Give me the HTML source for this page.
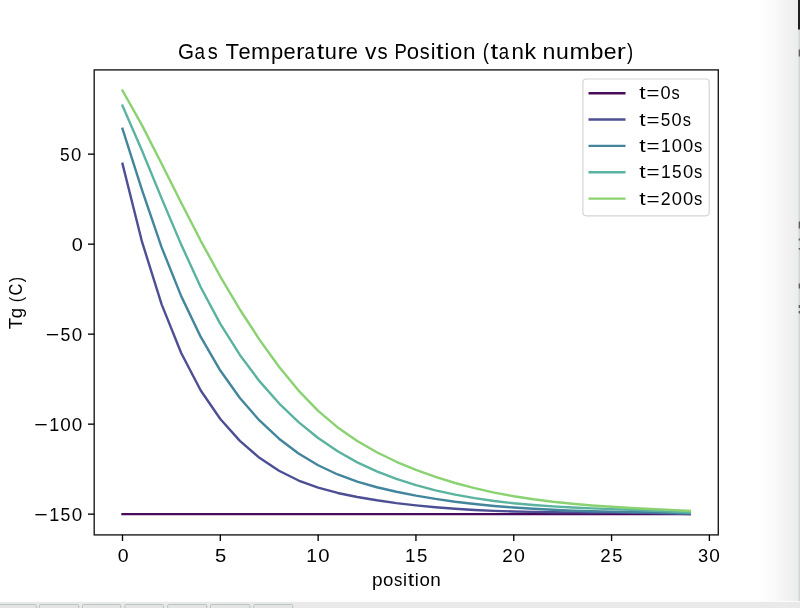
<!DOCTYPE html>
<html><head><meta charset="utf-8"><style>
html,body{margin:0;padding:0;background:#fff;width:800px;height:608px;overflow:hidden}
svg{display:block} #w{will-change:transform}
text{font-family:"Liberation Sans", sans-serif;fill:#000}
</style></head><body><div id="w">
<svg width="800" height="608" viewBox="0 0 800 608">
<defs>
<linearGradient id="rg" x1="0" x2="1" y1="0" y2="0">
<stop offset="0" stop-color="#ffffff"/><stop offset="0.45" stop-color="#f9f9f9"/><stop offset="1" stop-color="#ececec"/>
</linearGradient>
</defs>
<rect x="0" y="0" width="800" height="608" fill="#fff"/>
<rect x="757" y="0" width="41.5" height="601" fill="url(#rg)"/>
<rect x="798.4" y="0" width="1.6" height="601" fill="#cdd6d6"/>
<rect x="798" y="0" width="2" height="29.5" fill="#1e1e1e"/>
<g fill="#5c5c5c"><rect x="798.7" y="49.5" width="1.3" height="7"/><rect x="798.7" y="221.5" width="1.3" height="7"/><rect x="798.7" y="238.5" width="1.3" height="2"/><rect x="798.7" y="248" width="1.3" height="1.6"/><rect x="798.7" y="283.5" width="1.3" height="5"/><rect x="798.7" y="305" width="1.3" height="3"/><rect x="798.7" y="311" width="1.3" height="2.4"/></g>
<rect x="0" y="601.8" width="800" height="6.2" fill="#e9e9e9"/>
<rect x="-3.5" y="604.5" width="39.8" height="6" rx="1" fill="#e4e4e4" stroke="#b9c4c4" stroke-width="1"/>
<rect x="39.3" y="604.5" width="39.4" height="6" rx="1" fill="#e4e4e4" stroke="#b9c4c4" stroke-width="1"/>
<rect x="82.5" y="604.5" width="38.2" height="6" rx="1" fill="#e4e4e4" stroke="#b9c4c4" stroke-width="1"/>
<rect x="124.9" y="604.5" width="38.6" height="6" rx="1" fill="#e4e4e4" stroke="#b9c4c4" stroke-width="1"/>
<rect x="167.7" y="604.5" width="39.0" height="6" rx="1" fill="#e4e4e4" stroke="#b9c4c4" stroke-width="1"/>
<rect x="210.5" y="604.5" width="39.4" height="6" rx="1" fill="#e4e4e4" stroke="#b9c4c4" stroke-width="1"/>
<rect x="253.7" y="604.5" width="39.0" height="6" rx="1" fill="#e4e4e4" stroke="#b9c4c4" stroke-width="1"/>
<g fill="none" stroke-width="2.4" stroke-linejoin="round" stroke-linecap="square">
<polyline points="122.50,514.15 689.83,514.15" stroke="#490a5b"/>
<polyline points="122.50,163.78 142.06,241.93 161.63,304.33 181.19,352.94 200.75,390.45 220.31,419.03 239.88,440.83 259.44,457.79 279.00,470.80 298.57,480.55 318.13,487.71 337.69,492.96 357.26,496.96 376.82,500.28 396.38,503.08 415.94,505.40 435.51,507.29 455.07,508.80 474.63,509.96 494.20,510.84 513.76,511.48 533.32,511.92 552.89,512.21 572.45,512.40 592.01,512.53 611.58,512.66 631.14,512.82 650.70,513.07 670.26,513.46 689.83,514.02" stroke="#4c4f94"/>
<polyline points="122.50,128.86 142.06,190.06 161.63,247.34 181.19,296.11 200.75,336.93 220.31,370.56 239.88,398.04 259.44,420.43 279.00,438.72 298.57,453.51 318.13,465.26 337.69,474.48 357.26,481.64 376.82,487.24 396.38,491.76 415.94,495.61 435.51,498.91 455.07,501.71 474.63,504.05 494.20,505.99 513.76,507.56 533.32,508.82 552.89,509.82 572.45,510.59 592.01,511.19 611.58,511.66 631.14,512.05 650.70,512.40 670.26,512.77 689.83,513.20" stroke="#43859c"/>
<polyline points="122.50,105.64 142.06,150.75 161.63,198.37 181.19,244.61 200.75,287.21 220.31,323.93 239.88,354.97 259.44,381.16 279.00,403.30 298.57,422.11 318.13,438.01 337.69,451.32 357.26,462.36 376.82,471.46 396.38,478.95 415.94,485.14 435.51,490.32 455.07,494.64 474.63,498.17 494.20,501.02 513.76,503.28 533.32,505.05 552.89,506.42 572.45,507.49 592.01,508.35 611.58,509.09 631.14,509.82 650.70,510.62 670.26,511.60 689.83,512.84" stroke="#5ab39f"/>
<polyline points="122.50,90.52 142.06,125.36 161.63,163.78 181.19,202.69 200.75,240.80 220.31,276.53 239.88,309.51 259.44,339.59 279.00,366.68 298.57,390.59 318.13,410.87 337.69,427.42 357.26,440.95 376.82,452.25 396.38,461.79 415.94,469.92 435.51,476.95 455.07,483.01 474.63,488.19 494.20,492.56 513.76,496.23 533.32,499.26 552.89,501.75 572.45,503.78 592.01,505.43 611.58,506.78 631.14,507.93 650.70,508.95 670.26,509.92 689.83,510.95" stroke="#8ad271"/>
</g>
<rect x="94.2" y="69.9" width="624.1" height="465" fill="none" stroke="#1c1c1c" stroke-width="1.4"/>
<g stroke="#000" stroke-width="1.35"><line x1="88" y1="154.15" x2="94.2" y2="154.15"/><line x1="88" y1="244.15" x2="94.2" y2="244.15"/><line x1="88" y1="334.15" x2="94.2" y2="334.15"/><line x1="88" y1="424.15" x2="94.2" y2="424.15"/><line x1="88" y1="514.15" x2="94.2" y2="514.15"/><line x1="122.50" y1="534.8" x2="122.50" y2="541"/><line x1="220.31" y1="534.8" x2="220.31" y2="541"/><line x1="318.13" y1="534.8" x2="318.13" y2="541"/><line x1="415.94" y1="534.8" x2="415.94" y2="541"/><line x1="513.76" y1="534.8" x2="513.76" y2="541"/><line x1="611.58" y1="534.8" x2="611.58" y2="541"/><line x1="709.39" y1="534.8" x2="709.39" y2="541"/></g>
<text transform="translate(60.05,160.65) scale(0.916,1)" font-size="19.0">5</text><text transform="translate(70.92,160.65) scale(0.974,1)" font-size="19.0">0</text>
<text transform="translate(71.70,250.65) scale(1.047,1)" font-size="19.0">0</text>
<text transform="translate(45.75,340.65) scale(1.212,1)" font-size="19.0">−</text><text transform="translate(60.61,340.65) scale(0.931,1)" font-size="19.0">5</text><text transform="translate(71.66,340.65) scale(0.990,1)" font-size="19.0">0</text>
<text transform="translate(34.35,430.65) scale(1.214,1)" font-size="19.0">−</text><text transform="translate(49.18,430.65) scale(0.943,1)" font-size="19.0">1</text><text transform="translate(60.31,430.65) scale(0.992,1)" font-size="19.0">0</text><text transform="translate(71.65,430.65) scale(0.992,1)" font-size="19.0">0</text>
<text transform="translate(34.35,520.65) scale(1.214,1)" font-size="19.0">−</text><text transform="translate(49.18,520.65) scale(0.943,1)" font-size="19.0">1</text><text transform="translate(60.57,520.65) scale(0.933,1)" font-size="19.0">5</text><text transform="translate(71.65,520.65) scale(0.992,1)" font-size="19.0">0</text>
<text transform="translate(117.82,561.50) scale(1.025,1)" font-size="19.0">0</text>
<text transform="translate(214.99,561.50) scale(1.064,1)" font-size="19.0">5</text>
<text transform="translate(306.25,561.50) scale(1.014,1)" font-size="19.0">1</text><text transform="translate(318.22,561.50) scale(1.066,1)" font-size="19.0">0</text>
<text transform="translate(404.99,561.50) scale(0.989,1)" font-size="19.0">1</text><text transform="translate(416.93,561.50) scale(0.978,1)" font-size="19.0">5</text>
<text transform="translate(502.25,561.50) scale(0.996,1)" font-size="19.0">2</text><text transform="translate(514.06,561.50) scale(1.031,1)" font-size="19.0">0</text>
<text transform="translate(600.26,561.50) scale(0.985,1)" font-size="19.0">2</text><text transform="translate(612.22,561.50) scale(0.959,1)" font-size="19.0">5</text>
<text transform="translate(698.11,561.50) scale(0.964,1)" font-size="19.0">3</text><text transform="translate(709.33,561.50) scale(1.004,1)" font-size="19.0">0</text>
<text transform="translate(177.97,59.30) scale(0.943,1)" font-size="21.8">G</text><text transform="translate(194.61,59.30) scale(0.867,1)" font-size="21.8">a</text><text transform="translate(207.66,59.30) scale(0.921,1)" font-size="21.8">s</text>
<text transform="translate(225.50,59.30) scale(1.014,1)" font-size="21.8">T</text><text transform="translate(238.59,59.30) scale(1.002,1)" font-size="21.8">e</text><text transform="translate(251.11,59.30) scale(1.060,1)" font-size="21.8">m</text><text transform="translate(270.95,59.30) scale(1.010,1)" font-size="21.8">p</text><text transform="translate(283.58,59.30) scale(1.002,1)" font-size="21.8">e</text><text transform="translate(295.98,59.30) scale(1.185,1)" font-size="21.8">r</text><text transform="translate(304.49,59.30) scale(0.850,1)" font-size="21.8">a</text><text transform="translate(316.71,59.30) scale(1.237,1)" font-size="21.8">t</text><text transform="translate(324.79,59.30) scale(0.999,1)" font-size="21.8">u</text><text transform="translate(337.45,59.30) scale(1.185,1)" font-size="21.8">r</text><text transform="translate(345.81,59.30) scale(1.002,1)" font-size="21.8">e</text>
<text transform="translate(364.94,59.30) scale(1.050,1)" font-size="21.8">v</text><text transform="translate(377.56,59.30) scale(0.931,1)" font-size="21.8">s</text>
<text transform="translate(394.45,59.30) scale(0.850,1)" font-size="21.8">P</text><text transform="translate(406.72,59.30) scale(1.015,1)" font-size="21.8">o</text><text transform="translate(419.85,59.30) scale(0.911,1)" font-size="21.8">s</text><text transform="translate(430.63,59.30) scale(0.982,1)" font-size="21.8">i</text><text transform="translate(436.03,59.30) scale(1.273,1)" font-size="21.8">t</text><text transform="translate(444.57,59.30) scale(0.982,1)" font-size="21.8">i</text><text transform="translate(450.03,59.30) scale(1.015,1)" font-size="21.8">o</text><text transform="translate(462.91,59.30) scale(1.033,1)" font-size="21.8">n</text>
<text transform="translate(482.71,59.30) scale(0.850,1)" font-size="21.8">(</text><text transform="translate(490.45,59.30) scale(1.263,1)" font-size="21.8">t</text><text transform="translate(498.85,59.30) scale(0.850,1)" font-size="21.8">a</text><text transform="translate(511.40,59.30) scale(1.025,1)" font-size="21.8">n</text><text transform="translate(524.42,59.30) scale(1.062,1)" font-size="21.8">k</text>
<text transform="translate(542.44,59.30) scale(1.061,1)" font-size="21.8">n</text><text transform="translate(555.94,59.30) scale(1.055,1)" font-size="21.8">u</text><text transform="translate(569.44,59.30) scale(1.120,1)" font-size="21.8">m</text><text transform="translate(590.39,59.30) scale(1.067,1)" font-size="21.8">b</text><text transform="translate(603.74,59.30) scale(1.059,1)" font-size="21.8">e</text><text transform="translate(616.85,59.30) scale(1.252,1)" font-size="21.8">r</text><text transform="translate(627.00,59.30) scale(0.850,1)" font-size="21.8">)</text>
<text transform="translate(372.06,586.10) scale(1.003,1)" font-size="19.0">p</text><text transform="translate(383.01,586.10) scale(0.980,1)" font-size="19.0">o</text><text transform="translate(394.05,586.10) scale(0.879,1)" font-size="19.0">s</text><text transform="translate(403.12,586.10) scale(0.948,1)" font-size="19.0">i</text><text transform="translate(407.66,586.10) scale(1.228,1)" font-size="19.0">t</text><text transform="translate(414.84,586.10) scale(0.948,1)" font-size="19.0">i</text><text transform="translate(419.43,586.10) scale(0.980,1)" font-size="19.0">o</text><text transform="translate(430.27,586.10) scale(0.997,1)" font-size="19.0">n</text>
<text transform="translate(22.30,329.22) rotate(-90) scale(0.983,1)" font-size="19.0">T</text><text transform="translate(22.30,318.17) rotate(-90) scale(0.980,1)" font-size="19.0">g</text>
<text transform="translate(22.30,302.17) rotate(-90) scale(0.850,1)" font-size="19.0">(</text><text transform="translate(22.30,295.49) rotate(-90) scale(0.860,1)" font-size="19.0">C</text><text transform="translate(22.30,282.24) rotate(-90) scale(0.850,1)" font-size="19.0">)</text>
<rect x="582.9" y="79" width="126.3" height="136.8" rx="3.5" fill="#fff" fill-opacity="0.8" stroke="#d5d5d5" stroke-width="1.2"/>
<line x1="588.5" y1="93.20" x2="625.5" y2="93.20" stroke="#490a5b" stroke-width="2.4"/>
<text transform="translate(639.16,99.20) scale(1.205,1)" font-size="19.0">t</text><text transform="translate(646.52,99.20) scale(1.164,1)" font-size="19.0">=</text><text transform="translate(660.55,99.20) scale(0.956,1)" font-size="19.0">0</text><text transform="translate(671.58,99.20) scale(0.863,1)" font-size="19.0">s</text>
<line x1="588.5" y1="119.55" x2="625.5" y2="119.55" stroke="#4c4f94" stroke-width="2.4"/>
<text transform="translate(639.16,125.55) scale(1.209,1)" font-size="19.0">t</text><text transform="translate(646.54,125.55) scale(1.168,1)" font-size="19.0">=</text><text transform="translate(660.87,125.55) scale(0.902,1)" font-size="19.0">5</text><text transform="translate(671.58,125.55) scale(0.959,1)" font-size="19.0">0</text><text transform="translate(682.65,125.55) scale(0.866,1)" font-size="19.0">s</text>
<line x1="588.5" y1="145.90" x2="625.5" y2="145.90" stroke="#43859c" stroke-width="2.4"/>
<text transform="translate(639.15,151.90) scale(1.220,1)" font-size="19.0">t</text><text transform="translate(646.60,151.90) scale(1.178,1)" font-size="19.0">=</text><text transform="translate(661.01,151.90) scale(0.920,1)" font-size="19.0">1</text><text transform="translate(671.86,151.90) scale(0.968,1)" font-size="19.0">0</text><text transform="translate(682.92,151.90) scale(0.968,1)" font-size="19.0">0</text><text transform="translate(694.09,151.90) scale(0.873,1)" font-size="19.0">s</text>
<line x1="588.5" y1="172.25" x2="625.5" y2="172.25" stroke="#5ab39f" stroke-width="2.4"/>
<text transform="translate(639.15,178.25) scale(1.220,1)" font-size="19.0">t</text><text transform="translate(646.60,178.25) scale(1.178,1)" font-size="19.0">=</text><text transform="translate(661.01,178.25) scale(0.920,1)" font-size="19.0">1</text><text transform="translate(672.12,178.25) scale(0.910,1)" font-size="19.0">5</text><text transform="translate(682.92,178.25) scale(0.968,1)" font-size="19.0">0</text><text transform="translate(694.09,178.25) scale(0.873,1)" font-size="19.0">s</text>
<line x1="588.5" y1="198.60" x2="625.5" y2="198.60" stroke="#8ad271" stroke-width="2.4"/>
<text transform="translate(639.15,204.60) scale(1.220,1)" font-size="19.0">t</text><text transform="translate(646.60,204.60) scale(1.178,1)" font-size="19.0">=</text><text transform="translate(660.78,204.60) scale(0.935,1)" font-size="19.0">2</text><text transform="translate(671.86,204.60) scale(0.968,1)" font-size="19.0">0</text><text transform="translate(682.92,204.60) scale(0.968,1)" font-size="19.0">0</text><text transform="translate(694.09,204.60) scale(0.873,1)" font-size="19.0">s</text>
</svg></div>
</body></html>
